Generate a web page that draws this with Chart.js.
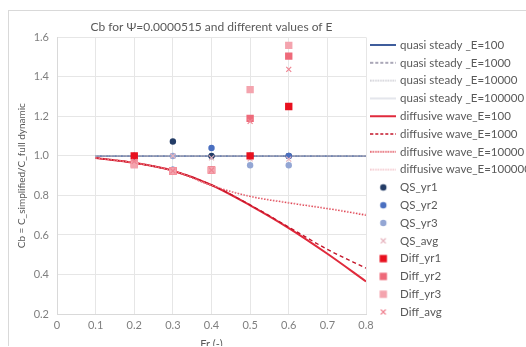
<!DOCTYPE html>
<html>
<head>
<meta charset="utf-8">
<script src="https://cdn.jsdelivr.net/npm/chart.js@4.4.1/dist/chart.umd.min.js"></script>
<style>
html, body { margin: 0; padding: 0; overflow: hidden; background: #fff; width: 526px; height: 347px; }
#box { position: absolute; left: 8px; top: 10px; width: 526px; height: 335px; border-left: 1px solid #d9d9d9; border-top: 1px solid #d9d9d9; }
</style>
</head>
<body>
<div id="box"><canvas id="chart"></canvas></div>
<script>
// Fr values of the curves and of the measured points
const frLine = [0.1, 0.2, 0.3, 0.4, 0.5, 0.6, 0.7, 0.8]
const frPts = [0.2, 0.3, 0.4, 0.5, 0.6]

// quasi steady curves (all on 1.0)
const qsE100 = [1, 1, 1, 1, 1, 1, 1, 1]
const qsE1000 = [1, 1, 1, 1, 1, 1, 1, 1]
const qsE10000 = [1, 1, 1, 1, 1, 1, 1, 1]
const qsE100000 = [1, 1, 1, 1, 1, 1, 1, 1]

// diffusive wave curves
const dwE100 = [0.99, 0.965, 0.925, 0.853, 0.75, 0.635, 0.505, 0.365]
const dwE1000 = [0.99, 0.965, 0.925, 0.853, 0.752, 0.64, 0.527, 0.432]
const dwE10000 = [0.99, 0.965, 0.925, 0.85, 0.795, 0.762, 0.733, 0.70]
const dwE100000 = [0.99, 0.965, 0.925, 0.852, 0.798, 0.766, 0.737, 0.705]

// yearly results
const qsYr1 = [1.0, 1.073, 1.0, 1.0, 1.0]
const qsYr2 = [1.0, 0.93, 1.04, 1.0, 1.0]
const qsYr3 = [1.0, 1.0, 0.93, 0.953, 0.953]
const qsAvg = [1.0, 1.0, 0.99, 0.985, 0.984]
const diffYr1 = [1.0, 0.924, 0.928, 1.0, 1.25]
const diffYr2 = [0.96, 0.924, 0.928, 1.19, 1.505]
const diffYr3 = [0.955, 0.924, 0.928, 1.336, 1.56]
const diffAvg = [0.972, 0.924, 0.928, 1.175, 1.438]

const yTicks = [0.2, 0.4, 0.6, 0.8, 1.0, 1.2, 1.4, 1.6]

const FONT = 'Lato, "Liberation Sans", sans-serif'

const pts = (xs, ys) => xs.map((x, i) => ({ x: x, y: ys[i] }))

function lineSet(label, ys, color, width, dash) {
	return {
		type: 'line', label: label, data: pts(frLine, ys),
		borderColor: color, backgroundColor: color, borderWidth: width,
		borderDash: dash, pointRadius: 0, cubicInterpolationMode: 'monotone', fill: false
	}
}

function pointSet(label, ys, color, style, r) {
	return {
		type: 'line', label: label, data: pts(frPts, ys), showLine: false,
		pointStyle: style, pointRadius: r, pointHoverRadius: r,
		backgroundColor: color, borderColor: color, pointBorderWidth: style == 'crossRot' ? 1.2 : 0
	}
}

const datasets = [
	lineSet('quasi steady _E=100', qsE100, '#3f5d9c', 2, []),
	lineSet('quasi steady _E=1000', qsE1000, '#8f8aa0', 1.3, [4, 3]),
	lineSet('quasi steady _E=10000', qsE10000, '#a8a8b4', 1, [1.5, 1.5]),
	lineSet('quasi steady _E=100000', qsE100000, '#c8ccd8', 0.8, []),
	lineSet('diffusive wave_E=100', dwE100, '#e02a3c', 2, []),
	lineSet('diffusive wave_E=1000', dwE1000, '#c4162a', 1.4, [4, 3]),
	lineSet('diffusive wave_E=10000', dwE10000, '#e0404e', 1.3, [1.5, 1.5]),
	lineSet('diffusive wave_E=100000', dwE100000, '#eb9aa4', 0.8, [1.5, 1.5]),
	pointSet('QS_yr1', qsYr1, '#233c66', 'circle', 3.2),
	pointSet('QS_yr2', qsYr2, '#4a6fc0', 'circle', 3.2),
	pointSet('QS_yr3', qsYr3, '#93a6d4', 'circle', 3.2),
	pointSet('QS_avg', qsAvg, '#e6b4be', 'crossRot', 3.5),
	pointSet('Diff_yr1', diffYr1, '#e8101e', 'rect', 5.2),
	pointSet('Diff_yr2', diffYr2, '#ee6a7a', 'rect', 5.2),
	pointSet('Diff_yr3', diffYr3, '#f4a4ae', 'rect', 5.2),
	pointSet('Diff_avg', diffAvg, '#ef8492', 'crossRot', 3.5)
]
// later series on top, as in the original
datasets.forEach((d, i) => d.order = datasets.length - i)

// small legend samples
function legendIcon(ds) {
	const c = document.createElement('canvas')
	c.width = 26
	c.height = 10
	const g = c.getContext('2d')
	g.strokeStyle = ds.borderColor
	g.fillStyle = ds.backgroundColor
	if (ds.showLine === false) {
		const r = ds.pointRadius
		g.lineWidth = 1.2
		g.beginPath()
		if (ds.pointStyle == 'circle') {
			g.arc(13, 5, r, 0, Math.PI * 2)
			g.fill()
		} else if (ds.pointStyle == 'rect') {
			const s = r * Math.SQRT1_2
			g.fillRect(13 - s, 5 - s, 2 * s, 2 * s)
		} else {
			const s = r * Math.SQRT1_2
			g.moveTo(13 - s, 5 - s); g.lineTo(13 + s, 5 + s)
			g.moveTo(13 + s, 5 - s); g.lineTo(13 - s, 5 + s)
			g.stroke()
		}
	} else {
		g.lineWidth = Math.max(ds.borderWidth, 1)
		g.setLineDash(ds.borderDash.length ? [3, 2] : [])
		if (ds.borderDash.length && ds.borderDash[0] < 2) g.setLineDash([1.5, 1])
		g.beginPath()
		g.moveTo(0, 5)
		g.lineTo(26, 5)
		g.stroke()
	}
	return c
}

new Chart(document.getElementById('chart'), {
	type: 'line',
	data: { datasets: datasets },
	options: {
		responsive: true,
		maintainAspectRatio: false,
		animation: false,
		layout: { padding: 0 },
		plugins: {
			title: {
				display: true,
				text: 'Cb for Ψ=0.0000515 and different values of E',
				color: '#595959',
				font: { family: FONT, size: 12, weight: 'normal' },
				fullSize: false,
				padding: { top: 9, bottom: 3 }
			},
			legend: {
				position: 'right',
				maxWidth: 169,
				labels: {
					color: '#595959',
					font: { family: FONT, size: 11.5 },
					usePointStyle: true,
					pointStyleWidth: 22,
					boxHeight: 10,
					padding: 6.3,
					generateLabels: chart => chart.data.datasets.map((ds, i) => ({
						text: ds.label,
						pointStyle: legendIcon(ds),
						datasetIndex: i,
						hidden: false,
						fontColor: '#595959',
						lineWidth: 0
					}))
				}
			},
			tooltip: { enabled: false }
		},
		scales: {
			x: {
				type: 'linear',
				min: 0,
				max: 0.8,
				afterFit: s => { s.height = 32 },
				ticks: {
					stepSize: 0.1,
					color: '#7f7f7f',
					font: { family: FONT, size: 11 },
					padding: 5,
					callback: v => v == 0 ? '0' : v.toFixed(1)
				},
				grid: { color: '#e6e6e6', drawTicks: false },
				border: { color: '#d9d9d9' },
				title: {
					display: true,
					text: 'Fr (-)',
					color: '#595959',
					font: { family: FONT, size: 11 },
					padding: { top: 4, bottom: -5 }
				}
			},
			y: {
				min: 0.2,
				max: 1.6,
				afterFit: s => { s.width = 48 },
				afterBuildTicks: s => { s.ticks = yTicks.map(v => ({ value: v })) },
				ticks: {
					color: '#7f7f7f',
					font: { family: FONT, size: 11 },
					padding: 8,
					callback: v => v.toFixed(1)
				},
				grid: { color: '#e6e6e6', drawTicks: false },
				border: { color: '#d9d9d9' },
				title: {
					display: true,
					text: 'Cb = C_simplified/C_full dynamic',
					color: '#595959',
					font: { family: FONT, size: 10 },
					padding: { top: 7, bottom: 0 }
				}
			}
		}
	}
})
</script>
</body>
</html>
